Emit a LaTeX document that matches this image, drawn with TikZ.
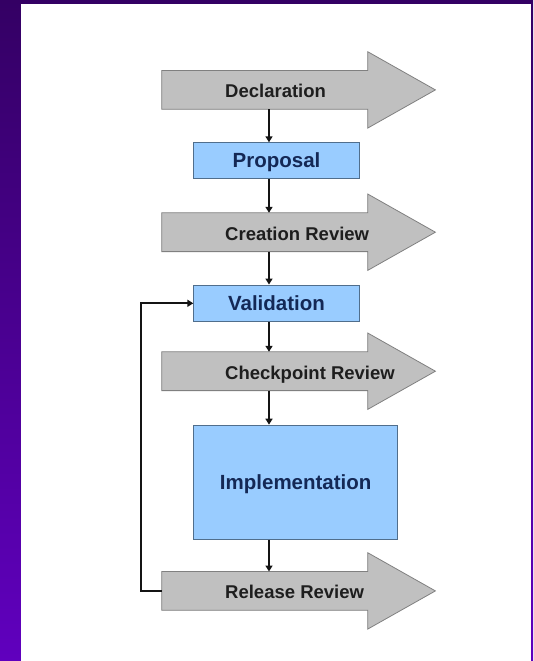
\documentclass[tikz,border=0pt]{standalone}
\usepackage{fontspec}
\setmainfont{Liberation Sans}
\usetikzlibrary{arrows.meta}
\definecolor{arrowgray}{RGB}{192,192,192}
\definecolor{arrowedge}{RGB}{128,128,128}
\definecolor{arrowtext}{RGB}{30,30,30}
\definecolor{boxblue}{RGB}{153,204,255}
\definecolor{boxedge}{RGB}{80,110,140}
\definecolor{boxtext}{RGB}{20,40,85}
\definecolor{linecol}{RGB}{20,20,20}
\definecolor{purpletop}{RGB}{52,0,100}
\definecolor{purplebot}{RGB}{96,0,190}
\newcommand\arrowfont{\fontsize{18.5}{20}\selectfont\bfseries}
\newcommand\boxfont{\fontsize{20.5}{22}\selectfont\bfseries}
\tikzset{
  garrow/.style={fill=arrowgray, draw=arrowedge, line width=0.8pt, line join=miter},
  bodyrect/.style={rectangle, minimum width=205.6pt, minimum height=38.4pt, inner sep=0pt, anchor=west},
  arrowlabel/.style={font=\arrowfont, text=arrowtext, anchor=west, inner sep=0pt, text height=16pt, text depth=0pt},
  bluebox/.style={rectangle, fill=boxblue, draw=boxedge, line width=0.8pt, font=\boxfont, text=boxtext, inner sep=0pt, text height=14.5pt, text depth=0pt},
  flow/.style={draw=linecol, line width=2.1pt, -{Triangle[length=6pt,width=7pt]}}
}
\begin{document}
\begin{tikzpicture}[x=1pt,y=-1pt]
\useasboundingbox (0,0) rectangle (533,661);
% background
\shade[top color=purpletop, bottom color=purplebot] (0,0) rectangle (533,661);
\fill[white] (21,4) rectangle (531,661);

% block arrows (bodies)
\node[bodyrect] (decl) at (161.7,89.9) {};
\node[bodyrect] (crea) at (161.7,232.2) {};
\node[bodyrect] (chk)  at (161.7,371.2) {};
\node[bodyrect] (rel)  at (161.7,590.9) {};
\foreach \n in {decl,crea,chk,rel}{
  \filldraw[garrow] (\n.north west) -- (\n.north east) -- ([yshift=18.8pt]\n.north east)
    -- ([xshift=67.7pt]\n.east) -- ([yshift=-18.8pt]\n.south east) -- (\n.south east)
    -- (\n.south west) -- cycle;
}
\node[arrowlabel] (decltxt) at (225,89.9) {Declaration};
\node[arrowlabel] (creatxt) at (225,232.2) {Creation Review};
\node[arrowlabel] (chktxt)  at (225,371.2) {Checkpoint Review};
\node[arrowlabel] (reltxt)  at (225,590.9) {Release Review};

% blue boxes
\node[bluebox, minimum width=165.6pt, minimum height=36pt] (prop) at (276.5,160.7) {Proposal};
\node[bluebox, minimum width=165.6pt, minimum height=36.7pt] (val) at (276.5,303.3) {Validation};
\node[bluebox, minimum width=204pt, minimum height=114.3pt] (impl) at (295.7,482.2) {Implementation};

% connectors
\coordinate (cx) at (269,0);
\draw[flow] (decl.south -| cx) -- (prop.north -| cx);
\draw[flow] (prop.south -| cx) -- (crea.north -| cx);
\draw[flow] (crea.south -| cx) -- (val.north -| cx);
\draw[flow] (val.south -| cx) -- (chk.north -| cx);
\draw[flow] (chk.south -| cx) -- (impl.north -| cx);
\draw[flow] (impl.south -| cx) -- (rel.north -| cx);
\draw[flow] (rel.west) -- ++(-21,0) |- (val.west);
\end{tikzpicture}
\end{document}
